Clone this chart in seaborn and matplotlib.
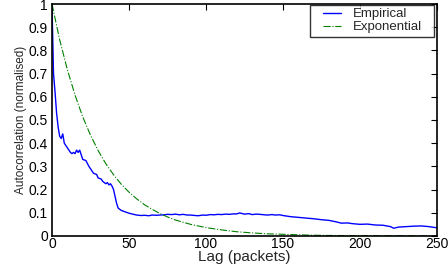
import matplotlib
matplotlib.use("Agg")
import matplotlib.pyplot as plt
from matplotlib.path import Path
import seaborn as sns
import pandas as pd

emp_lag = [0, 1, 2, 3, 4, 5, 6, 7, 8, 9, 10, 11, 12, 13, 14, 15, 16, 17, 18, 19, 20,
           22, 24, 25, 27, 29, 30, 32, 33, 35, 36, 37, 38, 39, 40, 41, 42, 43, 44, 45,
           47, 50, 53, 55, 58, 60, 63, 65, 68, 70, 73, 75, 78, 80, 83, 85, 88, 90, 93,
           95, 98, 100, 103, 105, 108, 110, 113, 115, 118, 120, 122, 125, 128, 130,
           133, 135, 138, 140, 143, 145, 148, 150, 155, 160, 165, 170, 175, 180, 185,
           188, 192, 195, 200, 205, 210, 215, 220, 222, 225, 230, 235, 240, 245, 250]
emp_val = [1.0, 0.70, 0.62, 0.53, 0.47, 0.43, 0.42, 0.44, 0.40, 0.39, 0.38, 0.37, 0.36,
           0.355, 0.36, 0.355, 0.37, 0.36, 0.37, 0.35, 0.33, 0.325, 0.30, 0.29, 0.27,
           0.265, 0.25, 0.245, 0.235, 0.225, 0.23, 0.22, 0.225, 0.215, 0.20, 0.17, 0.14,
           0.12, 0.115, 0.11, 0.105, 0.098, 0.093, 0.09, 0.088, 0.089, 0.087, 0.09,
           0.089, 0.09, 0.091, 0.093, 0.092, 0.094, 0.091, 0.093, 0.09, 0.09, 0.088,
           0.087, 0.09, 0.089, 0.092, 0.091, 0.093, 0.092, 0.094, 0.093, 0.095,
           0.095, 0.099, 0.094, 0.096, 0.092, 0.094, 0.093, 0.091, 0.09, 0.092, 0.09,
           0.091, 0.088, 0.083, 0.08, 0.077, 0.074, 0.07, 0.067, 0.06, 0.055, 0.056,
           0.053, 0.05, 0.051, 0.047, 0.046, 0.04, 0.033, 0.038, 0.04, 0.042, 0.043,
           0.04, 0.035]

exp_lag = [0, 5, 10, 15, 20, 25, 30, 35, 40, 45, 50, 55, 60, 65, 70, 75, 80, 90, 100,
           110, 120, 130, 140, 150, 160, 170, 180, 200, 220, 250]
exp_val = [1.0, 0.846, 0.717, 0.607, 0.513, 0.435, 0.368, 0.311, 0.264, 0.223, 0.189,
           0.160, 0.135, 0.115, 0.097, 0.082, 0.069, 0.050, 0.036, 0.026, 0.018,
           0.013, 0.009, 0.007, 0.005, 0.003, 0.002, 0.001, 0.0007, 0.0002]

x_ticks = [0, 50, 100, 150, 200, 250]
y_ticks = [0, 0.1, 0.2, 0.3, 0.4, 0.5, 0.6, 0.7, 0.8, 0.9, 1]
y_labels = ["0", "0.1", "0.2", "0.3", "0.4", "0.5", "0.6", "0.7", "0.8", "0.9", "1"]

sns.set_style("white")
plt.rcParams['font.family'] = ['Liberation Sans', 'DejaVu Sans']

fig = plt.figure(figsize=(4.48, 2.69), dpi=100)
ax = fig.add_axes([0.116, 0.123, 0.859, 0.862])

df_emp = pd.DataFrame({"lag": emp_lag, "val": emp_val})
df_exp = pd.DataFrame({"lag": exp_lag, "val": exp_val})
sns.lineplot(data=df_emp, x="lag", y="val", ax=ax, color="#0000ff", linewidth=1.0,
             label="Empirical")
sns.lineplot(data=df_exp, x="lag", y="val", ax=ax, color="#008000", linewidth=0.8,
             linestyle="-.", label="Exponential")

ax.set_xlim(0, 250)
ax.set_ylim(0, 1)
ax.set_xticks(x_ticks)
ax.set_yticks(y_ticks)
ax.set_yticklabels(y_labels)
ax.set_xlabel("Lag (packets)", fontsize=11, labelpad=-1)
ax.set_ylabel("Autocorrelation (normalised)", fontsize=8.5, labelpad=1)
ax.tick_params(direction="in", length=4, width=0.8, labelsize=10, top=True, right=True,
               colors="black")
ax.tick_params(axis="x", pad=1)
ax.tick_params(axis="y", pad=3)
for s in ax.spines.values():
    s.set_color("black")
    s.set_linewidth(1.2)
    s.set_visible(True)

leg = ax.legend(loc="upper right", bbox_to_anchor=(0.969, 0.996),
                fontsize=9.5, frameon=True, fancybox=False,
                borderpad=0.25, labelspacing=0.05, handlelength=1.4, handletextpad=0.85,
                borderaxespad=0.0)


def wide_box(x0, y0, width, height, mutation_size):
    px = 0.7 * mutation_size
    verts = [(x0 - px, y0), (x0 + width + px, y0), (x0 + width + px, y0 + height),
             (x0 - px, y0 + height), (x0 - px, y0)]
    return Path(verts, closed=True)


frame = leg.get_frame()
frame.set_boxstyle(wide_box)
frame.set_edgecolor("black")
frame.set_linewidth(1.0)

fig.savefig("out.png", dpi=100)
